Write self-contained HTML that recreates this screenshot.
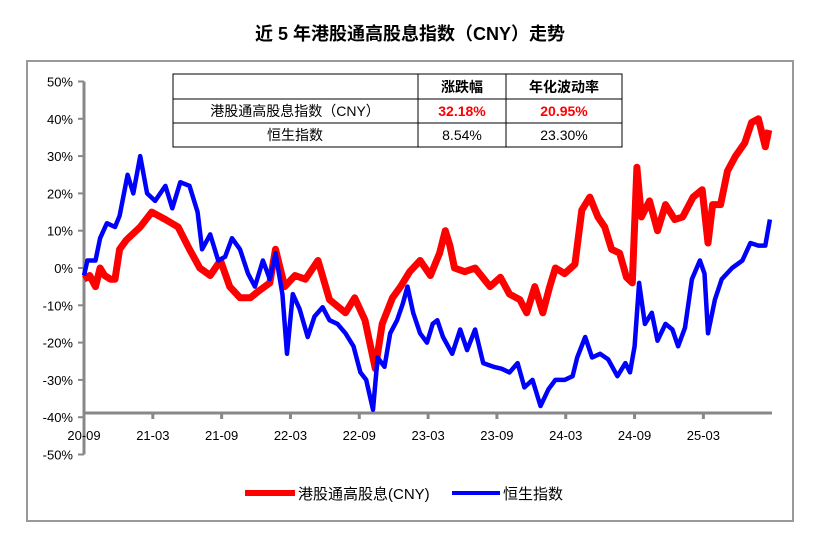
<!DOCTYPE html>
<html><head><meta charset="utf-8"><style>
body{margin:0;background:#fff;}
svg text{font-family:"Liberation Sans","Noto Sans CJK SC",sans-serif;}
</style></head><body>
<svg id="chart" width="815" height="531" xmlns="http://www.w3.org/2000/svg">
<rect x="27" y="61" width="766" height="460" fill="none" stroke="#999" stroke-width="2"/>
<text x="410" y="40" text-anchor="middle" font-size="18" font-weight="bold" fill="#000">近 5 年港股通高股息指数（CNY）走势</text>
<g id="axes"></g>
<g id="series"></g>
<g font-size="14">
<rect x="173" y="74" width="449" height="73" fill="#fff" stroke="#000" stroke-width="1"/>
<line x1="173" y1="99" x2="622" y2="99" stroke="#000"/>
<line x1="173" y1="123" x2="622" y2="123" stroke="#000"/>
<line x1="418" y1="74" x2="418" y2="147" stroke="#000"/>
<line x1="506" y1="74" x2="506" y2="147" stroke="#000"/>
<text x="462" y="92" text-anchor="middle" font-weight="bold">涨跌幅</text>
<text x="564" y="92" text-anchor="middle" font-weight="bold">年化波动率</text>
<text x="295" y="116" text-anchor="middle">港股通高股息指数（CNY）</text>
<text x="462" y="116" text-anchor="middle" fill="#f00" font-weight="bold">32.18%</text>
<text x="564" y="116" text-anchor="middle" fill="#f00" font-weight="bold">20.95%</text>
<text x="295" y="140" text-anchor="middle">恒生指数</text>
<text x="462" y="140" text-anchor="middle">8.54%</text>
<text x="564" y="140" text-anchor="middle">23.30%</text>
</g>
<g font-size="15">
<line x1="245" y1="493" x2="295" y2="493" stroke="#f00" stroke-width="6"/>
<text x="298" y="499">港股通高股息(CNY)</text>
<line x1="452" y1="493" x2="500" y2="493" stroke="#00f" stroke-width="4"/>
<text x="503" y="499">恒生指数</text>
</g>
</svg>
<script>
const yTicks=[50,40,30,20,10,0,-10,-20,-30,-40,-50];
const xTickLabels=["20-09","21-03","21-09","22-03","22-09","23-03","23-09","24-03","24-09","25-03"];
const xTickMonths=[0,6,12,18,24,30,36,42,48,54];
const redMonths=[0,0.5,1.0,1.4,1.8,2.3,2.7,3.1,3.7,4.9,5.9,7.1,8.2,9.2,10.1,11.0,11.9,12.7,13.6,14.5,15.3,16.2,16.7,17.5,18.4,19.3,20.4,21.4,22.8,23.6,24.5,25.4,26.0,26.9,27.6,28.4,29.3,30.2,31.0,31.5,31.9,32.3,33.2,34.1,35.4,36.3,37.1,38.0,38.6,39.3,40.0,40.6,41.1,41.9,42.8,43.4,44.1,44.8,45.4,46.0,46.7,47.3,47.8,48.2,48.6,49.3,50.0,50.7,51.5,52.2,53.1,53.9,54.4,54.8,55.5,56.1,56.8,57.6,58.2,58.8,59.4,59.7];
const redValues=[-3,-2,-5,0,-2,-3,-3,5,7.5,11,15,13,11,5,0,-2,2,-5,-8,-8,-6,-4,5,-5,-2,-3,2,-8.5,-12,-8,-14,-27,-15,-8,-5,-1,2,-2,4,10,6,0,-1,0,-5,-2.5,-7,-8.5,-12,-5,-12,-5,0,-1.5,1,15.5,19,13.7,11,5,4,-2.5,-4,27,13.7,18,10,17,13,13.7,19,21,6.7,17,17,26,30,33.5,39,40,32.5,37];
const blueMonths=[0,0.3,1.0,1.4,2.0,2.7,3.1,3.8,4.3,4.9,5.5,6.2,7.1,7.7,8.4,9.2,9.9,10.3,11.0,11.7,12.3,12.9,13.6,14.3,14.9,15.6,16.2,16.7,17.3,17.7,18.2,18.8,19.5,20.1,20.8,21.4,22.1,22.8,23.5,24.1,24.6,25.2,25.6,26.2,26.7,27.3,27.8,28.2,28.7,29.3,29.9,30.4,30.8,31.3,32.1,32.8,33.4,34.1,34.8,35.7,36.4,37.1,37.8,38.4,39.1,39.8,40.5,41.1,41.9,42.6,43.0,43.7,44.3,45.0,45.7,46.5,47.2,47.6,48.0,48.4,48.9,49.5,50.0,50.7,51.3,51.8,52.4,53.0,53.7,54.1,54.4,55.0,55.6,56.5,57.4,58.1,58.8,59.4,59.8];
const blueValues=[-2,2,2,8,12,11,14,25,20,30,20,18,22,16,23,22,15,5,9,2,3,8,5,-1.5,-5,2,-3,4,-7,-23,-7,-11,-18.5,-13,-10.5,-14,-15,-17.5,-21,-28,-30,-38,-24,-26.5,-17.5,-14,-9.5,-5,-12,-17.5,-20,-15,-14,-18.5,-23,-16.5,-22,-16.5,-25.5,-26.5,-27,-28,-25.5,-32,-30,-37,-32.5,-30,-30,-29,-24,-18.5,-24,-23,-24.5,-29,-25.5,-28,-21,-4,-15,-12,-19.5,-15,-16.5,-21,-16,-3,2,-1.5,-17.5,-8.5,-3,0,2,6.7,6,6,13];

const NS="http://www.w3.org/2000/svg";
const x=m=>84+m*11.47;
const y=v=>268-v*3.73;
const axes=document.getElementById('axes');
function mk(tag,attrs,parent){const e=document.createElementNS(NS,tag);for(const k in attrs)e.setAttribute(k,attrs[k]);parent.appendChild(e);return e;}
const ya=mk('line',{x1:84,y1:y(50),x2:84,y2:y(-50),stroke:'#888','stroke-width':3},axes);


const xa=mk('line',{x1:84,y1:413,x2:772,y2:413,stroke:'#888','stroke-width':3},axes);


yTicks.forEach(v=>{
  mk('line',{x1:78,y1:y(v),x2:84,y2:y(v),stroke:'#888','stroke-width':2},axes);
  const t=mk('text',{x:73,y:y(v)+5,'text-anchor':'end','font-size':13,fill:'#000'},axes);
  t.textContent=v+'%';
  
  
});
xTickMonths.forEach((m,i)=>{
  mk('line',{x1:x(m),y1:413,x2:x(m),y2:419,stroke:'#888','stroke-width':3},axes);
  const t=mk('text',{x:x(m),y:440,'text-anchor':'middle','font-size':13,fill:'#000'},axes);
  t.textContent=xTickLabels[i];
  
  
});
const ser=document.getElementById('series');
function line(ms,vs,color,w,name){
  const d=ms.map((m,i)=>(i?'L':'M')+x(m).toFixed(1)+','+y(vs[i]).toFixed(1)).join('');
  const p=mk('path',{d:d,fill:'none',stroke:color,'stroke-width':w,'stroke-linejoin':'round'},ser);
  
  
}
line(redMonths,redValues,'#f00',7,'high-dividend-line');
line(blueMonths,blueValues,'#00f',4.5,'hsi-line');
</script>
</body></html>
